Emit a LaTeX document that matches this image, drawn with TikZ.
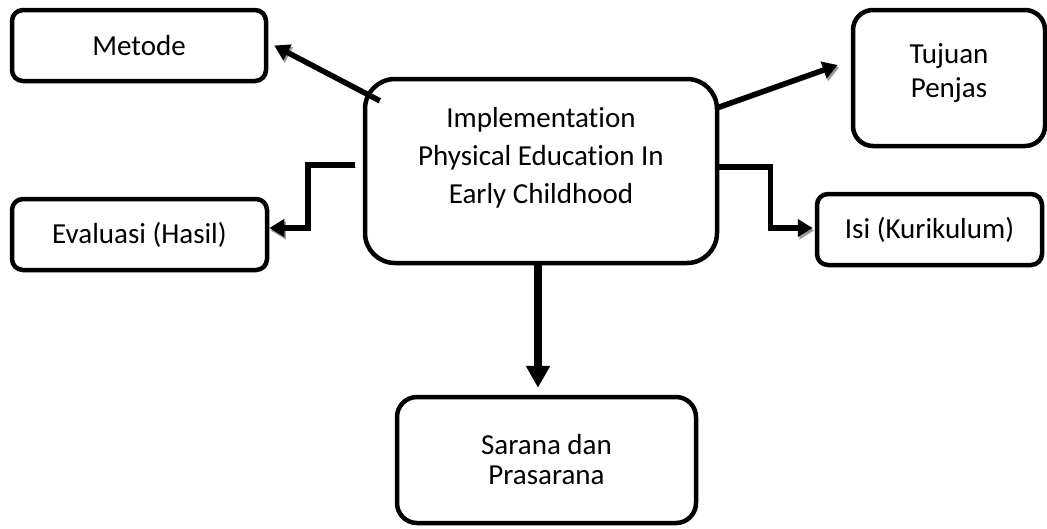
\documentclass[tikz,border=0pt]{standalone}
\usepackage{fontspec}
\setmainfont[Ligatures=NoCommon]{Carlito}
\usetikzlibrary{arrows.meta}

\tikzset{
  box/.style={draw, line width=4.5pt, rounded corners=#1, inner sep=0pt, align=center,
    font=\fontsize{29}{34}\selectfont},
  box/.default=11pt,
  boxtext/.style={align=center, inner sep=0pt},
  link/.style={line width=5.5pt, -{Triangle[length=15pt,width=17pt]},
    preaction={draw=black!40, transform canvas={shift={(1.5pt,-2.5pt)}}}},
  biglink/.style={line width=7.5pt, -{Triangle[length=22pt,width=23pt]}},
}

\begin{document}
\begin{tikzpicture}[x=1pt,y=-1pt]
            \useasboundingbox (0,0) rectangle (1047,528);

            % Boxes
            \node[box, minimum width=352pt, minimum height=184pt, rounded corners=30pt] (impl) at (541,171) {};
            \node[boxtext, font=\fontsize{29}{38}\selectfont] (impl-text) at ([yshift=13pt]impl.center)
              {Implementation\\Physical Education In\\Early Childhood};
            \node[box, minimum width=254pt, minimum height=71pt] (metode) at (139,45.5) {Metode};
            \node[box=20pt, minimum width=192pt, minimum height=136pt] (tujuan) at (949,78) {};
            \node[boxtext, font=\fontsize{29}{34}\selectfont] (tujuan-text) at ([yshift=5pt]tujuan.center)
              {Tujuan\\Penjas};
            \node[box, minimum width=255pt, minimum height=71pt] (evaluasi) at (139.5,234.5) {Evaluasi (Hasil)};
            \node[box, minimum width=225pt, minimum height=71pt] (isi) at (929.5,229.5) {Isi (Kurikulum)};
            \node[box=20pt, minimum width=299pt, minimum height=126pt,
              font=\fontsize{29}{30}\selectfont] (sarana) at (546.5,460) {Sarana dan\\Prasarana};

            % Connectors
            \draw[link] ([xshift=17pt,yshift=-24pt]impl.north west) -- ([xshift=6pt]metode.east);
            \draw[link] ([xshift=-2pt,yshift=-31pt]impl.north east) -- ([xshift=-13pt,yshift=13pt]tujuan.west);
            \draw[link] ([xshift=-8pt,yshift=6pt]impl.west) -- ++(-47,0) |- ([yshift=6.5pt]evaluasi.east);
            \draw[link] ([yshift=4pt]impl.east) -- ++(51,0) |- ([xshift=-2pt,yshift=1.5pt]isi.west);
            \draw[biglink] ([xshift=-3pt]impl.south) -- ([xshift=-3pt,yshift=7pt]impl.south |- sarana.north);
          \end{tikzpicture}
\end{document}
